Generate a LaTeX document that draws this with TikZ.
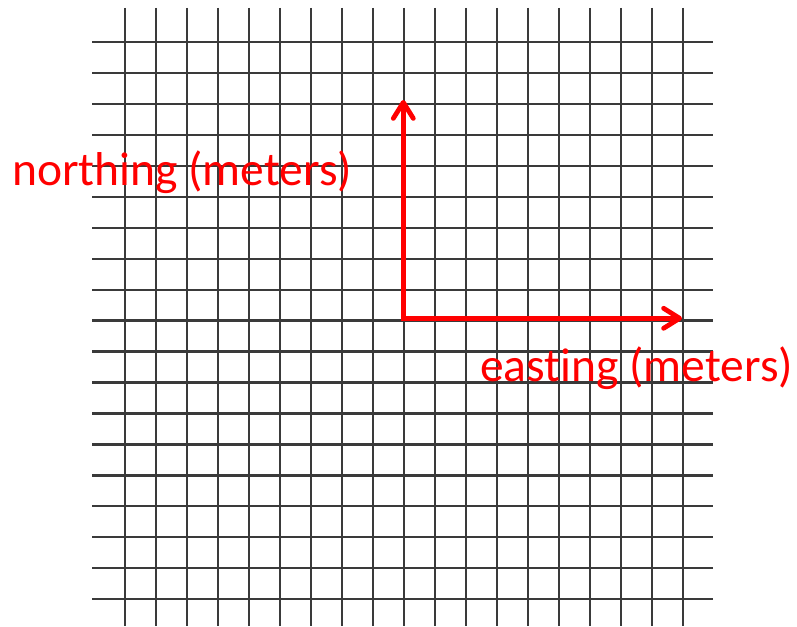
\documentclass[tikz,border=0pt]{standalone}
\usepackage{fontspec}
\setmainfont{Carlito}[Ligatures={NoCommon}]
\usetikzlibrary{arrows.meta}
\definecolor{gridline}{HTML}{3A3A3A}
\tikzset{
  gridln/.style={draw=gridline, line width=2.4pt},
  redarrow/.style={draw=red, line width=4.8pt, -{Straight Barb[length=16pt,width=20pt,round]}},
  lbl/.style={text=red, font=\fontsize{47.5}{56}\selectfont, inner sep=0pt, anchor=base west}
}
\begin{document}
\begin{tikzpicture}[x=1pt,y=-1pt]
\useasboundingbox (0,0) rectangle (797,626);
\fill[white] (0,0) rectangle (797,626);
% grid
\foreach \i in {0,...,18}{
  \draw[gridln] (124.7+31.03*\i,8) -- (124.7+31.03*\i,626);
  \draw[gridln] (92,42.3+30.93*\i) -- (713,42.3+30.93*\i);
}
\coordinate (o) at (403.3,318.3);
\coordinate (n) at (403.3,100);
\coordinate (e) at (682,318.3);
\draw[redarrow] ([xshift=-2.4pt]o) -- (e);
\draw[redarrow] ([yshift=2.4pt]o) -- (n);
\node[lbl] (nl) at (12,185) {northing (meters)};
\node[lbl] (el) at (480,381.5) {easting (meters)};
\end{tikzpicture}
\end{document}
